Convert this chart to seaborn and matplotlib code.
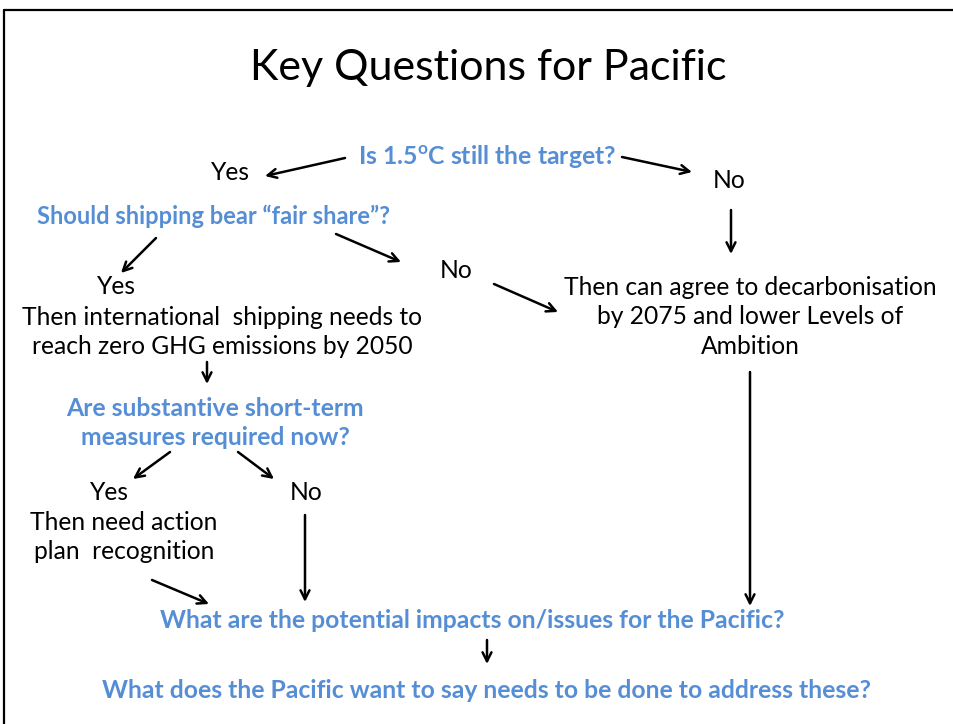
import matplotlib
matplotlib.use("Agg")
import matplotlib.pyplot as plt
import seaborn as sns

# === 1. Content ===
title = "Key Questions for Pacific"

questions = [
    r"Is 1.5$^{\mathbf{o}}$C still the target?",
    "Should shipping bear \u201cfair share\u201d?",
    "Are substantive short-term\nmeasures required now?",
    "What are the potential impacts on/issues for the Pacific?",
    "What does the Pacific want to say needs to be done to address these?",
]
question_pos = [(487, 157), (214, 216), (215, 423), (472, 620), (487, 690)]

answers = [
    "Yes", "No", "Yes", "No",
    "Then international  shipping needs to\nreach zero GHG emissions by 2050",
    "Then can agree to decarbonisation\nby 2075 and lower Levels of\nAmbition",
    "Yes", "No",
    "Then need action\nplan  recognition",
]
answer_pos = [(230, 173), (729, 180), (116, 287), (456, 270),
              (222, 332), (750, 317), (109, 492), (306, 492), (124, 537)]

# arrow (start, end) pairs in slide pixel coordinates
arrows = [
    ((345, 158), (265, 176)),
    ((622, 157), (692, 172)),
    ((731, 210), (731, 254)),
    ((156, 238), (121, 273)),
    ((336, 234), (401, 262)),
    ((494, 284), (558, 312)),
    ((207, 362), (207, 384)),
    ((170, 452), (133, 479)),
    ((238, 452), (274, 479)),
    ((152, 580), (209, 604)),
    ((305, 515), (305, 602)),
    ((750, 372), (750, 606)),
    ((487, 640), (487, 664)),
]

# === 2. Style ===
sns.set_theme(style="white")
plt.rcParams["font.family"] = ["Lato", "DejaVu Sans"]
plt.rcParams["mathtext.fontset"] = "custom"
plt.rcParams["mathtext.rm"] = "Lato"
plt.rcParams["mathtext.bf"] = "Lato:bold"
blue = "#558ED5"

fig = plt.figure(figsize=(9.54, 7.24), dpi=100)
ax = fig.add_axes([0, 0, 1, 1])
ax.set_xlim(0, 954)
ax.set_ylim(724, 0)
ax.axis("off")

# slide frame (top and left edges only)
ax.plot([4, 960], [10, 10], color="black", lw=1.6, clip_on=False)
ax.plot([4, 4], [10, 730], color="black", lw=1.6, clip_on=False)

# === 3. Text ===
ax.text(488, 68, title, ha="center", va="center", fontsize=31, color="black")

for i, (txt, (x, y)) in enumerate(zip(questions, question_pos)):
    size = 17.0 if i == 1 else 17.8
    ax.text(x, y, txt, ha="center", va="center", fontsize=size,
            fontweight="bold", color=blue, linespacing=1.33)

for txt, (x, y) in zip(answers, answer_pos):
    ax.text(x, y, txt, ha="center", va="center", fontsize=17.7,
            color="black", linespacing=1.36)

# === 4. Arrows ===
for (x0, y0), (x1, y1) in arrows:
    ax.annotate("", xy=(x1, y1), xytext=(x0, y0),
                arrowprops=dict(arrowstyle="->", lw=1.8, color="black",
                                mutation_scale=16, shrinkA=0, shrinkB=0))

fig.savefig("out.png", dpi=100)
